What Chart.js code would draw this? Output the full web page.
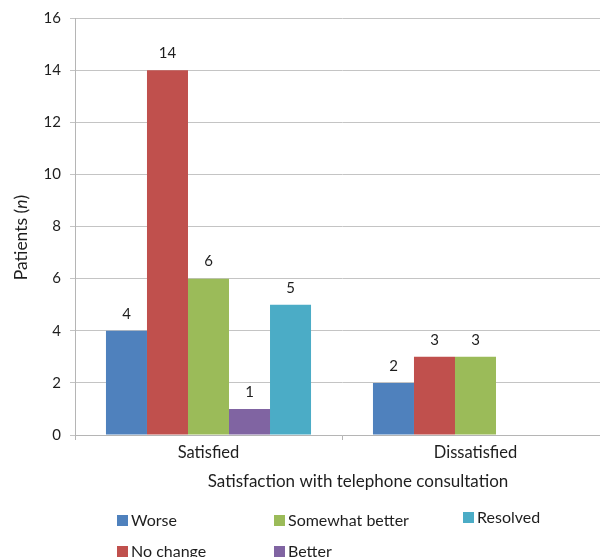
<!DOCTYPE html>
<html>
<head>
<meta charset="utf-8">
<script src="https://cdn.jsdelivr.net/npm/chart.js@4/dist/chart.umd.min.js"></script>
<style>
  html, body { margin: 0; padding: 0; background: #fff; overflow: hidden; }
  #wrap { position: relative; width: 600px; height: 557px; overflow: hidden; }
  #chart { position: absolute; left: 0; top: 0; }
  .lg { position: absolute; font-family: Lato, "Open Sans", sans-serif; font-size: 16px; color: #1e1e1e;
        display: flex; align-items: center; white-space: nowrap; line-height: 1; }
  .lg span.sw { display: inline-block; width: 11px; height: 11px; margin-right: 3px; }
</style>
</head>
<body>
<div id="wrap">
  <canvas id="chart" width="612" height="557"></canvas>
</div>
<script>
// Patient outcome counts by satisfaction with the telephone consultation
const categories = ["Satisfied", "Dissatisfied"];
const worse = [4, 2];
const noChange = [14, 3];
const somewhatBetter = [6, 3];
const better = [1, null];
const resolved = [5, null];

const seriesNames = ["Worse", "No change", "Somewhat better", "Better", "Resolved"];
const seriesColors = ["#4F81BD", "#C0504D", "#9BBB59", "#8064A2", "#4BACC6"];
const seriesValues = [worse, noChange, somewhatBetter, better, resolved];

const yTicks = [0, 2, 4, 6, 8, 10, 12, 14, 16];

const FONT = "Lato, 'Open Sans', sans-serif";
const INK = "#1e1e1e";

// Value labels above each bar, plus the axis titles (y title has an italic "n")
const annotate = {
  id: "annotate",
  afterDatasetsDraw(chart) {
    const ctx = chart.ctx;
    ctx.save();
    ctx.fillStyle = INK;
    ctx.font = "15px " + FONT;
    ctx.textAlign = "center";
    ctx.textBaseline = "middle";
    chart.data.datasets.forEach((ds, i) => {
      const meta = chart.getDatasetMeta(i);
      meta.data.forEach((bar, j) => {
        const v = ds.data[j];
        if (v === null || v === undefined) return;
        ctx.fillText(String(v), bar.x, bar.y - 17);
      });
    });

    const area = chart.chartArea;
    // x axis title
    ctx.font = "17px " + FONT;
    ctx.fillText("Satisfaction with telephone consultation", (area.left + area.right) / 2 + 16, 482);

    // y axis title, rotated, with italic n
    ctx.translate(21, (area.top + area.bottom) / 2 + 11);
    ctx.rotate(-Math.PI / 2);
    const parts = [["Patients (", "17.5px " + FONT], ["n", "italic 17.5px " + FONT], [")", "17.5px " + FONT]];
    let total = 0;
    parts.forEach(p => { ctx.font = p[1]; total += ctx.measureText(p[0]).width; });
    let x = -total / 2;
    ctx.textAlign = "left";
    parts.forEach(p => { ctx.font = p[1]; ctx.fillText(p[0], x, 0); x += ctx.measureText(p[0]).width; });
    ctx.restore();
  }
};

new Chart(document.getElementById("chart"), {
  type: "bar",
  data: {
    labels: categories,
    datasets: seriesNames.map((name, i) => ({
      label: name,
      data: seriesValues[i],
      backgroundColor: seriesColors[i],
      borderWidth: 0,
      categoryPercentage: 0.768,
      barPercentage: 1.0
    }))
  },
  options: {
    responsive: false,
    animation: false,
    layout: { padding: { top: 15, right: 3, bottom: 0, left: 0 } },
    plugins: {
      legend: { display: false },
      tooltip: { enabled: false }
    },
    scales: {
      x: {
        grid: { drawOnChartArea: false, tickLength: 5, color: "#b5b5b5", offset: true },
        border: { display: true, color: "#b5b5b5" },
        ticks: { font: { family: FONT, size: 16.5 }, color: INK, padding: 3 },
        afterFit: s => { s.height = 122; }
      },
      y: {
        min: 0,
        max: 16,
        afterBuildTicks: s => { s.ticks = yTicks.map(v => ({ value: v })); },
        grid: { color: "#c4c4c4", tickLength: 5 },
        border: { display: true, color: "#b5b5b5" },
        ticks: { font: { family: FONT, size: 15 }, color: INK, padding: 9 },
        afterFit: s => { s.width = 75; }
      }
    }
  },
  plugins: [annotate]
});

// Legend laid out in two rows, three columns
const legendSlots = [
  { left: 117, top: 512 },
  { left: 117, top: 543 },
  { left: 274, top: 512 },
  { left: 274, top: 543 },
  { left: 463, top: 509 }
];
const wrap = document.getElementById("wrap");
seriesNames.forEach((name, i) => {
  const d = document.createElement("div");
  d.className = "lg";
  d.style.left = legendSlots[i].left + "px";
  d.style.top = legendSlots[i].top + "px";
  const sw = document.createElement("span");
  sw.className = "sw";
  sw.style.background = seriesColors[i];
  d.appendChild(sw);
  d.appendChild(document.createTextNode(name));
  wrap.appendChild(d);
});
</script>
</body>
</html>
